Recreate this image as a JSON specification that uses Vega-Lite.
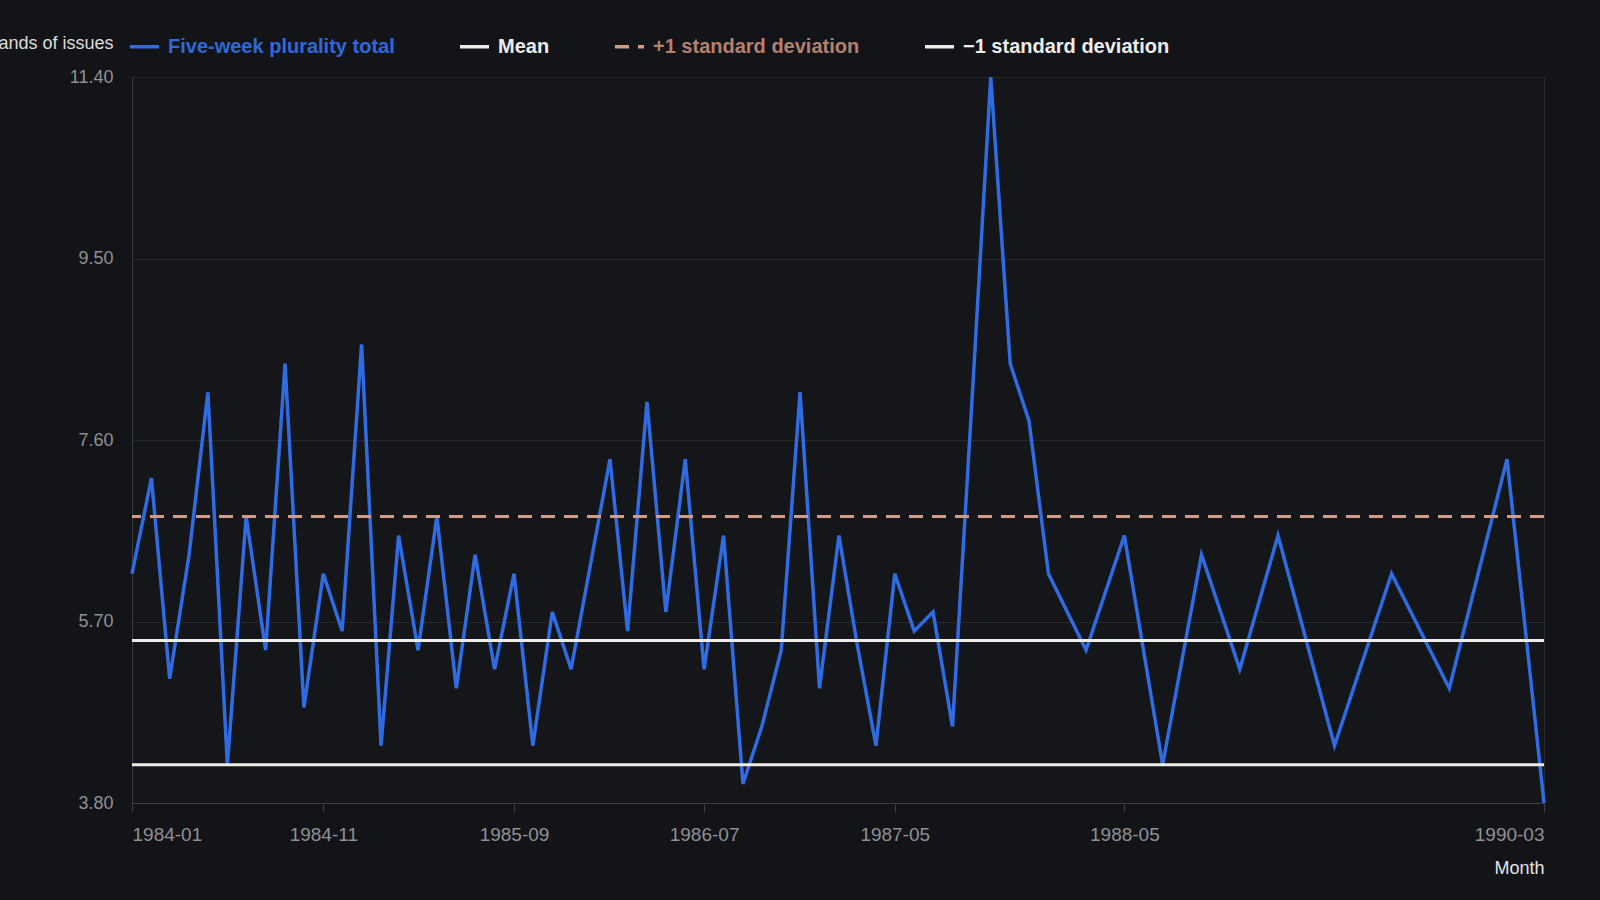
{
  "$schema": "https://vega.github.io/schema/vega-lite/v6.json",
  "width": 1412,
  "height": 726,
  "autosize": {"type": "none"},
  "padding": {"left": 132, "top": 77, "right": 56, "bottom": 97},
  "background": "#131418",
  "config": {
    "font": "Liberation Sans",
    "view": {"fill": "#15161a", "stroke": "#2a2c30", "strokeWidth": 1},
    "axis": {
      "labelFont": "Liberation Sans",
      "titleFont": "Liberation Sans",
      "labelColor": "#8f9093",
      "labelFontSize": 18,
      "domainColor": "#3a3c40",
      "tickColor": "#3a3c40",
      "gridColor": "#25272b"
    }
  },
  "datasets": {
    "plurality": [
      {"month": "1984-01-01", "value": 6.2},
      {"month": "1984-02-01", "value": 7.2},
      {"month": "1984-03-01", "value": 5.1},
      {"month": "1984-04-01", "value": 6.4},
      {"month": "1984-05-01", "value": 8.1},
      {"month": "1984-06-01", "value": 4.2},
      {"month": "1984-07-01", "value": 6.8},
      {"month": "1984-08-01", "value": 5.4},
      {"month": "1984-09-01", "value": 8.4},
      {"month": "1984-10-01", "value": 4.8},
      {"month": "1984-11-01", "value": 6.2},
      {"month": "1984-12-01", "value": 5.6},
      {"month": "1985-01-01", "value": 8.6},
      {"month": "1985-02-01", "value": 4.4},
      {"month": "1985-03-01", "value": 6.6},
      {"month": "1985-04-01", "value": 5.4},
      {"month": "1985-05-01", "value": 6.8},
      {"month": "1985-06-01", "value": 5.0},
      {"month": "1985-07-01", "value": 6.4},
      {"month": "1985-08-01", "value": 5.2},
      {"month": "1985-09-01", "value": 6.2},
      {"month": "1985-10-01", "value": 4.4},
      {"month": "1985-11-01", "value": 5.8},
      {"month": "1985-12-01", "value": 5.2},
      {"month": "1986-01-01", "value": 6.3},
      {"month": "1986-02-01", "value": 7.4},
      {"month": "1986-03-01", "value": 5.6},
      {"month": "1986-04-01", "value": 8.0},
      {"month": "1986-05-01", "value": 5.8},
      {"month": "1986-06-01", "value": 7.4},
      {"month": "1986-07-01", "value": 5.2},
      {"month": "1986-08-01", "value": 6.6},
      {"month": "1986-09-01", "value": 4.0},
      {"month": "1986-10-01", "value": 4.6},
      {"month": "1986-11-01", "value": 5.4},
      {"month": "1986-12-01", "value": 8.1},
      {"month": "1987-01-01", "value": 5.0},
      {"month": "1987-02-01", "value": 6.6},
      {"month": "1987-03-01", "value": 5.5},
      {"month": "1987-04-01", "value": 4.4},
      {"month": "1987-05-01", "value": 6.2},
      {"month": "1987-06-01", "value": 5.6},
      {"month": "1987-07-01", "value": 5.8},
      {"month": "1987-08-01", "value": 4.6},
      {"month": "1987-09-01", "value": 8.0},
      {"month": "1987-10-01", "value": 11.4},
      {"month": "1987-11-01", "value": 8.4},
      {"month": "1987-12-01", "value": 7.8},
      {"month": "1988-01-01", "value": 6.2},
      {"month": "1988-03-01", "value": 5.4},
      {"month": "1988-05-01", "value": 6.6},
      {"month": "1988-07-01", "value": 4.2},
      {"month": "1988-09-01", "value": 6.4},
      {"month": "1988-11-01", "value": 5.2},
      {"month": "1989-01-01", "value": 6.6},
      {"month": "1989-04-01", "value": 4.4},
      {"month": "1989-07-01", "value": 6.2},
      {"month": "1989-10-01", "value": 5.0},
      {"month": "1990-01-01", "value": 7.4},
      {"month": "1990-03-01", "value": 3.8}
    ],
    "refs": [
      {"series": "Mean", "value": 5.5},
      {"series": "+1 standard deviation", "value": 6.8},
      {"series": "−1 standard deviation", "value": 4.2}
    ]
  },
  "layer": [
    {
      "data": {"name": "plurality"},
      "transform": [{"calculate": "'Five-week plurality total'", "as": "series"}],
      "mark": {"type": "line", "strokeWidth": 3.5, "strokeJoin": "miter"},
      "encoding": {
        "x": {
          "field": "month",
          "type": "temporal",
          "scale": {
            "type": "utc",
            "domain": [
              {"year": 1984, "month": 1, "date": 1, "utc": true},
              {"year": 1990, "month": 3, "date": 1, "utc": true}
            ]
          },
          "axis": {
            "title": "Month",
            "format": "%Y-%m",
            "values": [
              {"year": 1984, "month": 1, "date": 1, "utc": true},
              {"year": 1984, "month": 11, "date": 1, "utc": true},
              {"year": 1985, "month": 9, "date": 1, "utc": true},
              {"year": 1986, "month": 7, "date": 1, "utc": true},
              {"year": 1987, "month": 5, "date": 1, "utc": true},
              {"year": 1988, "month": 5, "date": 1, "utc": true},
              {"year": 1990, "month": 3, "date": 1, "utc": true}
            ],
            "labelFlush": true,
            "labelOverlap": false,
            "labelFontSize": 19,
            "tickSize": 9,
            "labelPadding": 13,
            "grid": false,
            "titleColor": "#e4e4e4",
            "titleFontSize": 18,
            "titleFontWeight": "normal",
            "titleAnchor": "end",
            "titleAlign": "right",
            "titleBaseline": "middle",
            "titleX": 1412,
            "titleY": 65
          }
        },
        "y": {
          "field": "value",
          "type": "quantitative",
          "scale": {"domain": [3.8, 11.4], "nice": false, "zero": false},
          "axis": {
            "title": "Thousands of issues",
            "values": [3.8, 5.7, 7.6, 9.5, 11.4],
            "format": ".2f",
            "ticks": false,
            "labelPadding": 19,
            "grid": true,
            "titleAngle": 0,
            "titleAlign": "right",
            "titleBaseline": "middle",
            "titleX": -19,
            "titleY": -34,
            "titleColor": "#dcdcdc",
            "titleFontSize": 18,
            "titleFontWeight": "normal"
          }
        },
        "color": {"field": "series", "type": "nominal", "title": null},
        "strokeDash": {"field": "series", "type": "nominal", "title": null}
      }
    },
    {
      "data": {"name": "refs"},
      "mark": {"type": "rule", "strokeWidth": 3},
      "encoding": {
        "y": {"field": "value", "type": "quantitative"},
        "color": {"field": "series", "type": "nominal"},
        "strokeDash": {"field": "series", "type": "nominal"}
      }
    }
  ],
  "resolve": {"scale": {"color": "shared", "strokeDash": "shared"}},
  "encoding": {
    "color": {
      "field": "series",
      "type": "nominal",
      "scale": {
        "domain": ["Five-week plurality total", "Mean", "+1 standard deviation", "−1 standard deviation"],
        "range": ["#2f6be3", "#ecebe8", "#d29c88", "#ecebe8"]
      },
      "legend": {
        "title": null,
        "orient": "none",
        "direction": "horizontal",
        "legendX": -4,
        "legendY": -47,
        "symbolType": "stroke",
        "symbolSize": 841,
        "symbolStrokeWidth": 3.5,
        "labelFont": "Liberation Sans",
        "labelFontSize": 20,
        "labelFontWeight": "bold",
        "labelOffset": 7,
        "columnPadding": 58,
        "labelLimit": 400,
        "encode": {
          "labels": {
            "update": {
              "fill": {"signal": "datum.value === 'Five-week plurality total' ? '#3068dc' : datum.value === '+1 standard deviation' ? '#b5806f' : '#ececea'"}
            }
          },
          "symbols": {
            "update": {
              "strokeDash": {"signal": "datum.value === '+1 standard deviation' ? [12, 5] : [1, 0]"}
            }
          }
        }
      }
    },
    "strokeDash": {
      "field": "series",
      "type": "nominal",
      "scale": {
        "domain": ["Five-week plurality total", "Mean", "+1 standard deviation", "−1 standard deviation"],
        "range": [[1, 0], [1, 0], [14, 9], [1, 0]]
      },
      "legend": null
    }
  }
}
